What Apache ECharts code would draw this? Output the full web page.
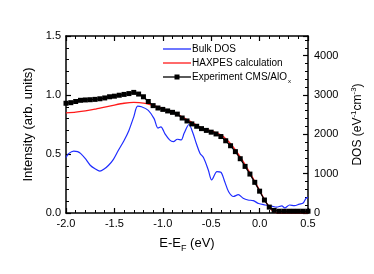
<!DOCTYPE html>
<html>
<head>
<meta charset="utf-8">
<script src="https://cdn.jsdelivr.net/npm/echarts@6/dist/echarts.min.js"></script>
<style>html,body{margin:0;padding:0;background:#fff}#c{width:374px;height:274px}</style>
</head>
<body>
<div id="c"></div>
<script>
// Experiment CMS/AlOx (left axis, arb. units)
var expX = [-2.00,-1.95,-1.90,-1.85,-1.80,-1.75,-1.70,-1.65,-1.60,-1.55,-1.50,-1.45,-1.40,-1.35,-1.30,-1.25,-1.20,-1.15,-1.10,-1.05,-1.00,-0.95,-0.90,-0.85,-0.80,-0.75,-0.70,-0.65,-0.60,-0.55,-0.50,-0.45,-0.40,-0.35,-0.30,-0.25,-0.20,-0.15,-0.10,-0.05,0.00,0.05,0.10,0.15,0.20,0.25,0.30,0.35,0.40,0.45,0.50];
var expY = [0.930,0.935,0.945,0.955,0.958,0.960,0.963,0.968,0.975,0.985,0.990,0.998,1.005,1.012,1.022,1.008,0.985,0.945,0.910,0.890,0.878,0.865,0.853,0.838,0.805,0.780,0.755,0.735,0.715,0.700,0.685,0.670,0.648,0.612,0.570,0.520,0.460,0.395,0.330,0.260,0.185,0.110,0.050,0.022,0.015,0.015,0.015,0.015,0.015,0.015,0.015];
// HAXPES calculation (left axis)
var haxX = [-2.0,-1.9,-1.8,-1.7,-1.6,-1.5,-1.4,-1.3,-1.2,-1.1,-1.0,-0.9,-0.8,-0.7,-0.6,-0.5,-0.45,-0.4,-0.35,-0.3,-0.25,-0.2,-0.15,-0.1,-0.05,0.0,0.05,0.1,0.15,0.2,0.3,0.4,0.5];
var haxY = [0.848,0.855,0.865,0.880,0.898,0.915,0.930,0.937,0.932,0.912,0.885,0.855,0.815,0.768,0.722,0.695,0.680,0.662,0.630,0.588,0.535,0.475,0.410,0.340,0.268,0.192,0.115,0.050,0.008,0,0,0,0];
// Bulk DOS (right axis, eV^-1 cm^-3)
var dosX = [-2.00,-1.97,-1.92,-1.88,-1.85,-1.80,-1.75,-1.70,-1.65,-1.61,-1.56,-1.51,-1.46,-1.40,-1.35,-1.30,-1.26,-1.22,-1.15,-1.09,-1.05,-1.02,-0.98,-0.93,-0.89,-0.85,-0.81,-0.78,-0.73,-0.69,-0.65,-0.615,-0.58,-0.53,-0.495,-0.44,-0.40,-0.36,-0.32,-0.27,-0.22,-0.17,-0.12,-0.065,-0.01,0.055,0.125,0.175,0.23,0.26,0.31,0.36,0.41,0.45,0.48,0.50];
var dosY = [1410,1515,1575,1560,1515,1380,1215,1125,1065,1110,1215,1365,1590,1845,2100,2445,2715,2700,2610,2400,2160,2190,2025,1860,1815,1875,1860,2025,2250,2040,1740,1515,1410,1095,840,1050,1035,795,540,420,465,375,330,315,240,204,174,150,180,129,204,186,225,255,375,390];
// Series names (legend)
var seriesNames = ['Bulk DOS','HAXPES calculation','Experiment CMS/AlOx'];
var seriesColors = ['#1f2dff','#ff1a1a','#000000'];
// Tick settings
var xTicks = {min:-2.0, max:0.5, step:0.5};
var yLeft = {min:0, max:1.5, step:0.5};
var yRight = {min:0, max:4500, step:1000};

function pairs(xs, ys){ return xs.map(function(x,i){return [x, ys[i]];}); }

var FONT = '"Liberation Sans", Arial, sans-serif';
var chart = echarts.init(document.getElementById('c'), null, {renderer:'canvas'});
var axisLineStyle = {color:'#000', width:1.5};

// legend drawn as graphic elements
var legX = 163, legW = 28, legY0 = 49, legDY = 14;
var legendGraphics = [];
seriesNames.forEach(function(name, i){
  var y = legY0 + i*legDY;
  legendGraphics.push({type:'line', shape:{x1:legX, y1:y, x2:legX+legW, y2:y}, style:{stroke:seriesColors[i], lineWidth:1.3}});
  if (i === 2) {
    legendGraphics.push({type:'rect', shape:{x:legX+legW/2-2.5, y:y-2.5, width:5, height:5}, style:{fill:'#000'}});
  }
  var txt = name === 'Experiment CMS/AlOx' ? '{n|Experiment CMS/AlO}{s|x}' : '{n|' + name + '}';
  legendGraphics.push({type:'text', x:legX+legW+1, y:y, style:{text:txt, verticalAlign:'middle', align:'left',
    rich:{n:{fontFamily:FONT, fontSize:10, fill:'#000'}, s:{fontFamily:FONT, fontSize:6, fill:'#000', padding:[9,0,0,1]}}}});
});

chart.setOption({
  animation:false,
  backgroundColor:'#fff',
  textStyle:{fontFamily:FONT, color:'#000'},
  grid:{left:66, right:66, top:36, bottom:61, containLabel:false},
  graphic:legendGraphics,
  xAxis:[{
    type:'value', min:xTicks.min, max:xTicks.max, interval:xTicks.step, position:'bottom',
    name:'{a|E-E}{s|F}{a| (eV)}', nameLocation:'middle', nameGap:21,
    nameTextStyle:{rich:{a:{fontFamily:FONT, fontSize:13, color:'#000'}, s:{fontFamily:FONT, fontSize:9, color:'#000', padding:[10,0,0,0]}}},
    axisLine:{show:true, onZero:false, lineStyle:axisLineStyle},
    axisTick:{show:true, inside:true, length:5, lineStyle:{color:'#000', width:1.2}},
    minorTick:{show:true, splitNumber:5, length:3, lineStyle:{color:'#000', width:1}},
    splitLine:{show:false},
    axisLabel:{color:'#000', fontSize:11, fontFamily:FONT, margin:5, formatter:function(v){return v.toFixed(1);}}
  },{
    type:'value', min:xTicks.min, max:xTicks.max, interval:xTicks.step, position:'top',
    axisLine:{show:true, onZero:false, lineStyle:axisLineStyle},
    axisTick:{show:true, inside:true, length:5, lineStyle:{color:'#000', width:1.2}},
    minorTick:{show:true, splitNumber:5, length:3, lineStyle:{color:'#000', width:1}},
    splitLine:{show:false}, axisLabel:{show:false}
  }],
  yAxis:[{
    type:'value', min:yLeft.min, max:yLeft.max, interval:yLeft.step, position:'left',
    name:'Intensity (arb. units)', nameLocation:'middle', nameGap:30,
    nameTextStyle:{fontFamily:FONT, fontSize:13, color:'#000'},
    axisLine:{show:true, onZero:false, lineStyle:axisLineStyle},
    axisTick:{show:true, inside:true, length:5, lineStyle:{color:'#000', width:1.2}},
    minorTick:{show:true, splitNumber:5, length:3, lineStyle:{color:'#000', width:1}},
    splitLine:{show:false},
    axisLabel:{color:'#000', fontSize:11, fontFamily:FONT, margin:5, formatter:function(v){return v.toFixed(1);}}
  },{
    type:'value', min:yRight.min, max:yRight.max, interval:yRight.step, position:'right',
    name:'{a|DOS (eV}{p|-1}{a|cm}{p|-3}{a|)}', nameLocation:'middle', nameGap:30,
    nameTextStyle:{rich:{a:{fontFamily:FONT, fontSize:12, color:'#000'}, p:{fontFamily:FONT, fontSize:8, color:'#000', padding:[0,0,8,0]}}},
    axisLine:{show:true, onZero:false, lineStyle:axisLineStyle},
    axisTick:{show:true, inside:true, length:5, lineStyle:{color:'#000', width:1.2}},
    minorTick:{show:true, splitNumber:5, length:3, lineStyle:{color:'#000', width:1}},
    splitLine:{show:false},
    axisLabel:{color:'#000', fontSize:11, fontFamily:FONT, margin:6, formatter:function(v){return v > 4000 ? '' : String(v);}}
  }],
  series:[{
    name:seriesNames[0], type:'line', yAxisIndex:1, xAxisIndex:0, data:pairs(dosX, dosY),
    showSymbol:false, symbol:'none', smooth:0.3, lineStyle:{color:seriesColors[0], width:1.2}, itemStyle:{color:seriesColors[0]}, z:2
  },{
    name:seriesNames[1], type:'line', yAxisIndex:0, xAxisIndex:0, data:pairs(haxX, haxY),
    showSymbol:false, symbol:'none', smooth:0.2, lineStyle:{color:seriesColors[1], width:1.3}, itemStyle:{color:seriesColors[1]}, z:3
  },{
    name:seriesNames[2], type:'line', yAxisIndex:0, xAxisIndex:0, data:pairs(expX, expY),
    symbol:'rect', symbolSize:5, showSymbol:true, lineStyle:{color:seriesColors[2], width:1.3}, itemStyle:{color:seriesColors[2]}, z:4
  }]
});
</script>
</body>
</html>
